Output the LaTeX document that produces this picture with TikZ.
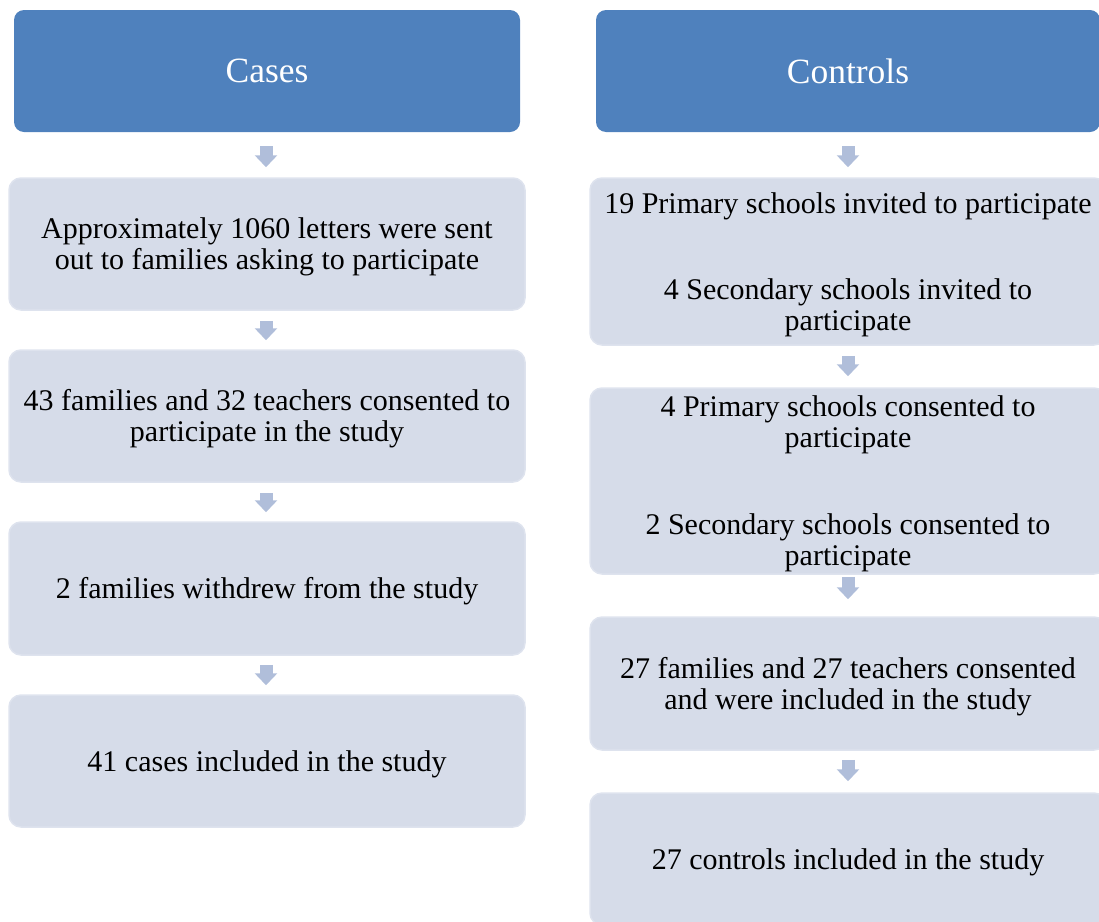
\documentclass[tikz,border=0pt]{standalone}
\usepackage{fontspec}
\setmainfont{Liberation Serif}
\usetikzlibrary{arrows.meta,calc}
\definecolor{headblue}{RGB}{79,129,189}
\definecolor{boxfill}{RGB}{214,220,233}
\definecolor{boxedge}{RGB}{222,227,238}
\definecolor{arrowc}{RGB}{176,190,218}
\begin{document}
\begin{tikzpicture}[x=1pt,y=-1pt,
  header/.style={draw=none,fill=headblue,rounded corners=10pt,text=white,
    minimum height=122pt,inner sep=0pt,font=\fontsize{35.5}{40}\selectfont},
  stagebox/.style={draw=boxedge,line width=1.5pt,fill=boxfill,rounded corners=12pt,
    minimum width=516pt,inner sep=0pt},
  boxtext/.style={align=center,inner sep=0pt,yshift=-3pt,font=\fontsize{30}{31}\selectfont},
  flowarrow/.style={draw=arrowc,line width=13pt,
    -{Triangle[width=22pt,length=12pt]}}]
\useasboundingbox (0,0) rectangle (1099,921);
\begin{scope}
\clip (0,0) rectangle (1099,921);
% Cases column
\node[header,minimum width=506pt] (hc) at (267,71) {Cases};
\node[stagebox,minimum height=132pt,label={[boxtext]center:{Approximately 1060 letters were sent\\out to families asking to participate}}] (l1) at (267,244) {};
\node[stagebox,minimum height=132pt,label={[boxtext]center:{43 families and 32 teachers consented to\\participate in the study}}] (l2) at (267,416) {};
\node[stagebox,minimum height=133pt,label={[boxtext]center:{2 families withdrew from the study}}] (l3) at (267,588.5) {};
\node[stagebox,minimum height=132pt,label={[boxtext]center:{41 cases included in the study}}] (l4) at (267,761) {};
% Controls column
\node[header,minimum width=504pt] (hk) at (848,71) {Controls};
\node[stagebox,minimum height=167pt,label={[boxtext]center:{19 Primary schools invited to participate\\[55pt]4 Secondary schools invited to\\participate}}] (r1) at (848,261.5) {};
\node[stagebox,minimum height=186pt,label={[boxtext]center:{4 Primary schools consented to\\participate\\[56pt]2 Secondary schools consented to\\participate}}] (r2) at (848,481) {};
\node[stagebox,minimum height=133pt,label={[boxtext]center:{27 families and 27 teachers consented\\and were included in the study}}] (r3) at (848,683.5) {};
\node[stagebox,minimum height=132pt,label={[boxtext]center:{27 controls included in the study}}] (r4) at (848,859) {};
% arrows
\draw[flowarrow] ($(hc.south)+(-1,14)$) -- ($(l1.north)+(-1,-10)$);
\draw[flowarrow] ($(l1.south)+(-1,10)$) -- ($(l2.north)+(-1,-9)$);
\draw[flowarrow] ($(l2.south)+(-1,10)$) -- ($(l3.north)+(-1,-9)$);
\draw[flowarrow] ($(l3.south)+(-1,9)$) -- ($(l4.north)+(-1,-9)$);
\draw[flowarrow] ($(hk.south)+(0,14)$) -- ($(r1.north)+(0,-10)$);
\draw[flowarrow] ($(r1.south)+(0,10)$) -- ($(r2.north)+(0,-11)$);
\draw[flowarrow] ($(r2.south)+(0,2)$) -- ($(r3.north)+(0,-17)$);
\draw[flowarrow] ($(r3.south)+(0,9)$) -- ($(r4.north)+(0,-11)$);
\end{scope}
\end{tikzpicture}
\end{document}
